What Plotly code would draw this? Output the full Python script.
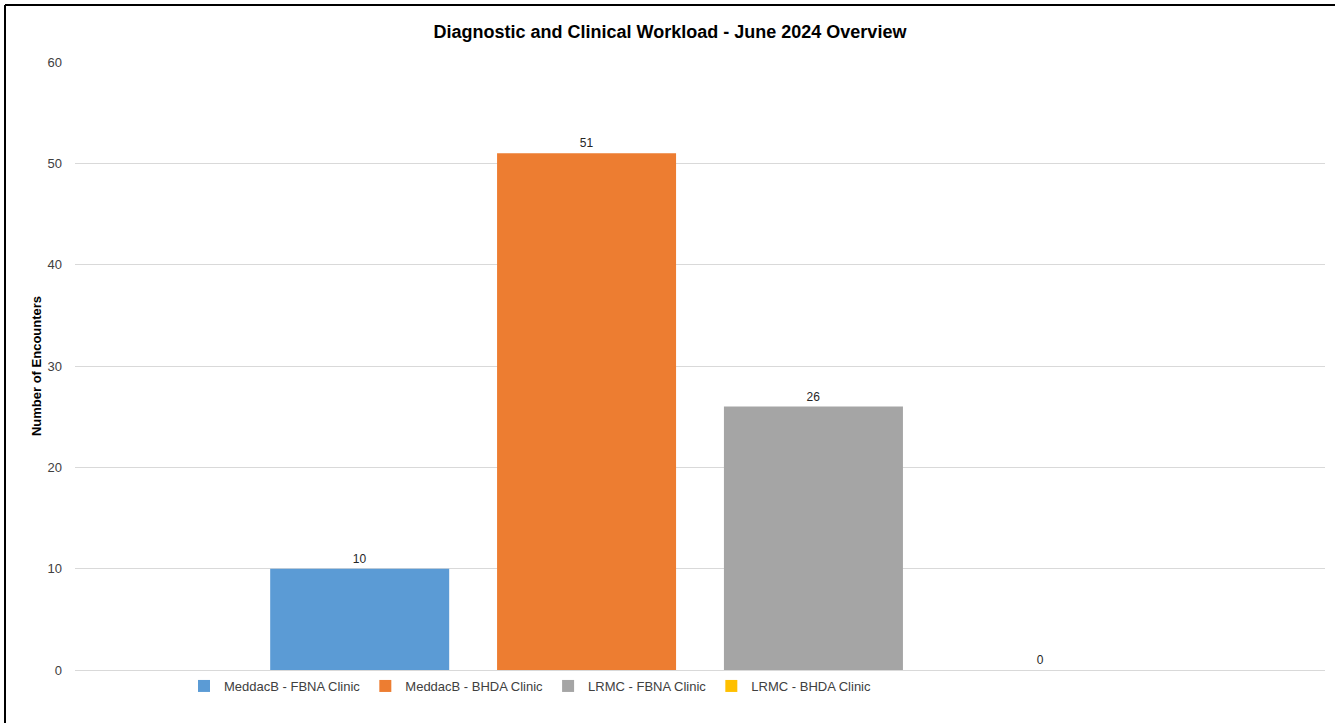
import plotly.graph_objects as go

category = ["June 2024"]
series_names = ["MeddacB - FBNA Clinic", "MeddacB - BHDA Clinic", "LRMC - FBNA Clinic", "LRMC - BHDA Clinic"]
series_values = [10, 51, 26, 0]
series_colors = ["#5B9BD5", "#ED7D31", "#A5A5A5", "#FFC000"]
y_ticks = [0, 10, 20, 30, 40, 50, 60]

W, H = 1335, 723
ml, mr, mt, mb = 75, 10, 62, 53

fig = go.Figure()
for name, val, col in zip(series_names, series_values, series_colors):
    fig.add_trace(go.Bar(
        x=category, y=[val], name=name, marker=dict(color=col, line=dict(width=0)),
        text=[str(val)], textposition="outside", cliponaxis=False,
        textfont=dict(family="Liberation Sans", size=12, color="#262626"),
    ))

pw = W - ml - mr
ph = H - mt - mb
x0 = (5 - ml) / pw
y1 = (H - mb - 5) / ph

fig.update_layout(
    width=W, height=H,
    margin=dict(l=ml, r=mr, t=mt, b=mb),
    paper_bgcolor="white", plot_bgcolor="white",
    barmode="group", bargap=0.274, bargroupgap=0.211,
    title=dict(text="<b>Diagnostic and Clinical Workload - June 2024 Overview</b>",
               x=670 / W, xanchor="center", y=1 - 32 / H, yanchor="middle",
               font=dict(family="Liberation Sans", size=18, color="#000000")),
    font=dict(family="Liberation Sans", size=12, color="#404040"),
    xaxis=dict(range=[-0.5, 0.5], showticklabels=False, showgrid=False, zeroline=False,
               showline=False, ticks=""),
    yaxis=dict(range=[0, 60], tickvals=y_ticks, showgrid=True, gridcolor="#D9D9D9", gridwidth=1,
               zeroline=True, zerolinecolor="#D9D9D9", zerolinewidth=1, showline=False,
               ticks="", ticklabelstandoff=12,
               tickfont=dict(family="Liberation Sans", size=13, color="#404040"),
               title=dict(text="<b>Number of Encounters</b>", standoff=2,
                          font=dict(family="Liberation Sans", size=13, color="#000000"))),
    legend=dict(orientation="h", x=(184 - ml) / pw, xanchor="left", y=-(686 - (H - mb)) / ph,
                yanchor="middle", font=dict(family="Liberation Sans", size=13, color="#404040"),
                itemwidth=30, traceorder="normal", bgcolor="rgba(0,0,0,0)"),
    showlegend=True,
    shapes=[
        dict(type="line", xref="paper", yref="paper", x0=x0, x1=(W + 10 - ml) / pw, y0=y1, y1=y1,
             line=dict(color="#000000", width=2)),
        dict(type="line", xref="paper", yref="paper", x0=x0, x1=x0, y0=y1, y1=-(mb + 10) / ph,
             line=dict(color="#000000", width=2)),
    ],
)

fig.write_html("out.html", config={"displayModeBar": False},
               post_script="document.body.style.margin='0px';document.body.style.overflow='hidden';")
